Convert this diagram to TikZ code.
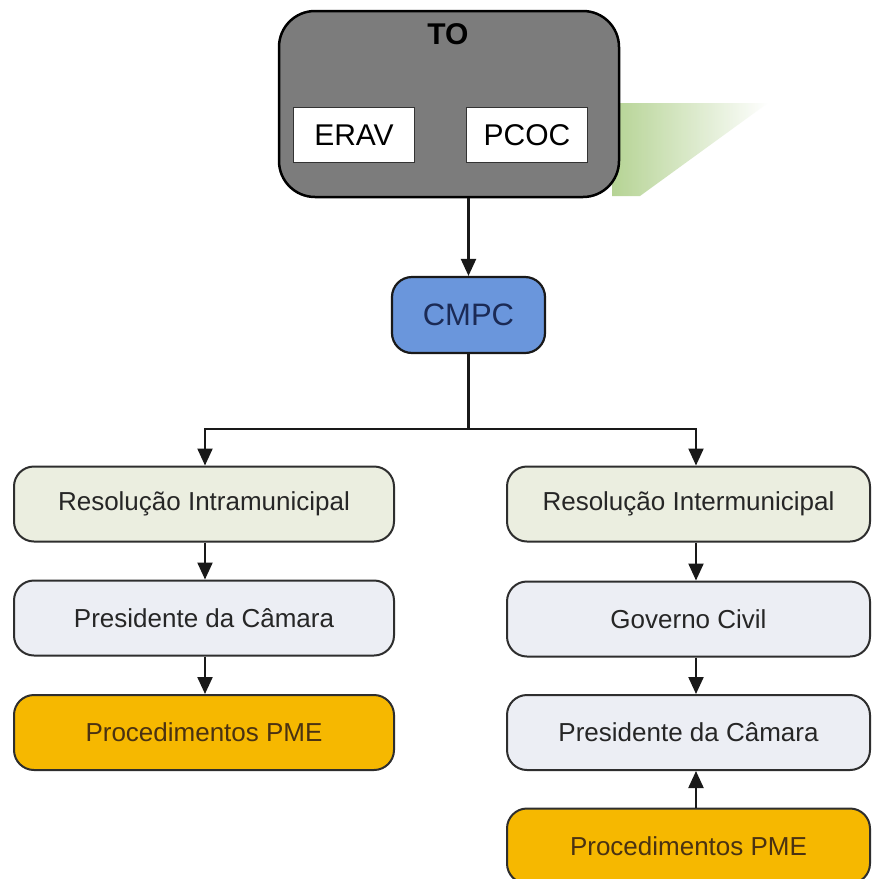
\documentclass[tikz,border=0pt]{standalone}
\usepackage{fontspec}
\setmainfont{Liberation Sans}
\usetikzlibrary{arrows.meta,positioning,shadings,calc}
\definecolor{toGray}{HTML}{7C7C7C}
\definecolor{cmpcBlue}{HTML}{6A96DC}
\definecolor{cmpcText}{HTML}{1B2A55}
\definecolor{resFill}{HTML}{EBEEE0}
\definecolor{presFill}{HTML}{ECEEF4}
\definecolor{pmeFill}{HTML}{F6B800}
\definecolor{pmeText}{HTML}{4A3212}
\definecolor{edge}{HTML}{2E2E2E}
\definecolor{leaf}{HTML}{A9CC82}
\tikzset{
  stepbox/.style={draw=edge, line width=2pt, rounded corners=20pt,
    minimum height=75pt, inner sep=0pt, text=black!85,
    font=\fontsize{26}{30}\selectfont},
  leftbox/.style={stepbox, minimum width=380pt},
  rightbox/.style={stepbox, minimum width=363pt},
  whitebox/.style={draw=black!80, line width=1.2pt, fill=white,
    minimum width=121pt, minimum height=55pt, inner sep=0pt,
    font=\fontsize{30}{34}\selectfont},
  arr/.style={draw=black!90, line width=2.2pt,
    -{Triangle[length=17pt,width=15pt]}},
  conn/.style={draw=black!90, line width=2.2pt},
}
\begin{document}
\begin{tikzpicture}[x=1pt,y=-1pt]
\useasboundingbox (0,0) rectangle (872,879);
\clip (0,0) rectangle (872,879);
\fill[white] (0,0) rectangle (872,879);

% soft green shape beside the top block
\shade[left color=leaf, right color=white, opacity=0.85]
  (612,103) -- (768,103) -- (640,196) -- (612,196) -- cycle;

% top block
\node[draw=black, line width=2.5pt, fill=toGray, rounded corners=36pt,
  minimum width=340pt, minimum height=186pt, inner sep=0pt] (TO) at (449,104) {};
\node[font=\fontsize{30}{34}\selectfont\bfseries] (TOlabel) at (448,34) {TO};
\node[whitebox] (ERAV) at (354,135) {ERAV};
\node[whitebox] (PCOC) at (527,135) {PCOC};

% CMPC
\node[draw=black!90, line width=2.2pt, fill=cmpcBlue, rounded corners=20pt,
  minimum width=153pt, minimum height=76pt, inner sep=0pt, text=cmpcText,
  font=\fontsize{31}{35}\selectfont] (CMPC) at (468.5,315) {CMPC};

% left column
\node[leftbox, fill=resFill] (L1) at (204,504) {Resolução Intramunicipal};
\node[leftbox, fill=presFill] (L2) at (204,618) {Presidente da Câmara};
\node[leftbox, fill=pmeFill, text=pmeText] (L3) at (204,732.5) {Procedimentos PME};

% right column
\node[rightbox, fill=resFill] (R1) at (688.5,504) {Resolução Intermunicipal};
\node[rightbox, fill=presFill] (R2) at (688.5,619) {Governo Civil};
\node[rightbox, fill=presFill] (R3) at (688.5,732.5) {Presidente da Câmara};
\node[rightbox, fill=pmeFill, text=pmeText] (R4) at (688.5,846) {Procedimentos PME};

% connectors
\draw[arr] (TO.south -| CMPC.north) -- (CMPC.north);
\coordinate (split) at ($(CMPC.south)+(0,75)$);
\draw[conn] (CMPC.south) -- (split);
\coordinate (Ltop) at ([xshift=1pt]L1.north);
\coordinate (Rtop) at ([xshift=7.5pt]R1.north);
\draw[arr] (split) -| (Ltop);
\draw[arr] (split) -| (Rtop);
\draw[arr] ([xshift=1pt]L1.south) -- ([xshift=1pt]L2.north);
\draw[arr] ([xshift=1pt]L2.south) -- ([xshift=1pt]L3.north);
\draw[arr] ([xshift=7.5pt]R1.south) -- ([xshift=7.5pt]R2.north);
\draw[arr] ([xshift=7.5pt]R2.south) -- ([xshift=7.5pt]R3.north);
\draw[arr] ([xshift=7.5pt]R4.north) -- ([xshift=7.5pt]R3.south);
\end{tikzpicture}
\end{document}
